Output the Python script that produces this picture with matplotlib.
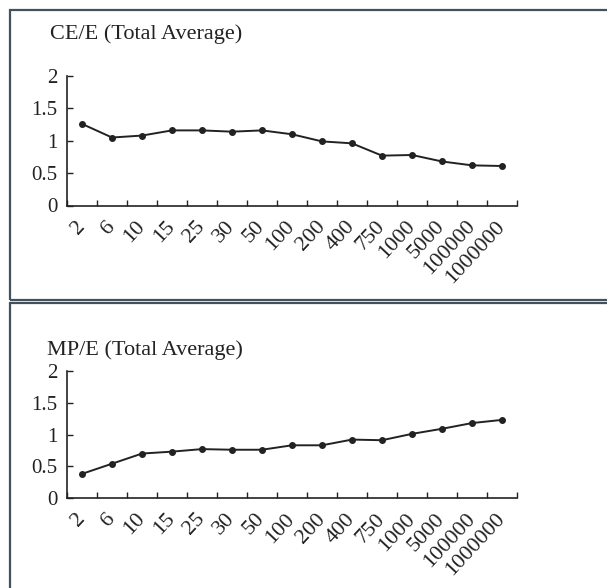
import numpy as np
import matplotlib
matplotlib.use("Agg")
import matplotlib.pyplot as plt
from matplotlib.patches import Rectangle

# category labels shared by both panels
cats = ["2", "6", "10", "15", "25", "30", "50", "100", "200", "400",
        "750", "1000", "5000", "100000", "1000000"]

# CE/E total average (top panel)
ce_e = [1.26, 1.05, 1.08, 1.16, 1.16, 1.14, 1.16, 1.10, 0.99, 0.96,
        0.77, 0.78, 0.68, 0.62, 0.61]

# MP/E total average (bottom panel)
mp_e = [0.38, 0.54, 0.70, 0.73, 0.77, 0.76, 0.76, 0.83, 0.83, 0.92,
        0.91, 1.01, 1.09, 1.18, 1.23]

titles = ["CE/E (Total Average)", "MP/E (Total Average)"]

W, H = 607, 588
plt.rcParams['font.family'] = ['Liberation Serif', 'DejaVu Serif']

fig = plt.figure(figsize=(W / 100, H / 100), dpi=100)
fig.patch.set_facecolor("white")

ink = "#222222"
frame = "#44505a"

# panel frames (pixel coords -> figure fraction)
def px_rect(x0, y0, x1, y1):
    return Rectangle((x0 / W, 1 - y1 / H), (x1 - x0) / W, (y1 - y0) / H,
                     transform=fig.transFigure, fill=False,
                     edgecolor=frame, linewidth=1.6, zorder=0)

fig.patches.append(px_rect(9.5, 9.5, 640, 300))
fig.patches.append(px_rect(9.5, 303, 640, 620))

# axes boxes in pixels: left, top(y=2), right, bottom(y=0)
boxes = [(67, 76, 517, 205.5), (67, 371, 517, 498)]
title_pos = [(50, 34), (47, 350)]
series = [ce_e, mp_e]

x = np.arange(len(cats))

for (l, t, r, b), vals, title, (tx, ty) in zip(boxes, series, titles, title_pos):
    ax = fig.add_axes([l / W, 1 - b / H, (r - l) / W, (b - t) / H])
    ax.set_facecolor("none")
    ax.plot(x, vals, color=ink, linewidth=1.4, marker="o", markersize=4,
            clip_on=False)
    ax.set_xlim(-0.5, len(cats) - 0.5)
    ax.set_ylim(0, 2)
    ax.set_yticks([0, 0.5, 1, 1.5, 2])
    ax.set_yticklabels(["0", "0.5", "1", "1.5", "2"])
    ax.set_xticks(x)
    ax.set_xticklabels(cats, rotation=47, ha="right", va="center",
                       rotation_mode="anchor")
    ax.set_xticks(np.arange(len(cats) + 1) - 0.5, minor=True)
    ax.tick_params(axis="x", which="major", length=0, pad=13,
                   labelsize=16, labelcolor=ink)
    ax.tick_params(axis="x", which="minor", direction="in", length=4,
                   width=1, color=ink)
    ax.tick_params(axis="y", direction="in", length=4, width=1, color=ink,
                   pad=7, labelsize=15, labelcolor=ink)
    for s in ["top", "right"]:
        ax.spines[s].set_visible(False)
    for s in ["left", "bottom"]:
        ax.spines[s].set_color(ink)
        ax.spines[s].set_linewidth(1.2)
    fig.text(tx / W, 1 - ty / H, title, fontsize=16, color=ink,
             ha="left", va="center")

fig.savefig("out.png", dpi=100)
